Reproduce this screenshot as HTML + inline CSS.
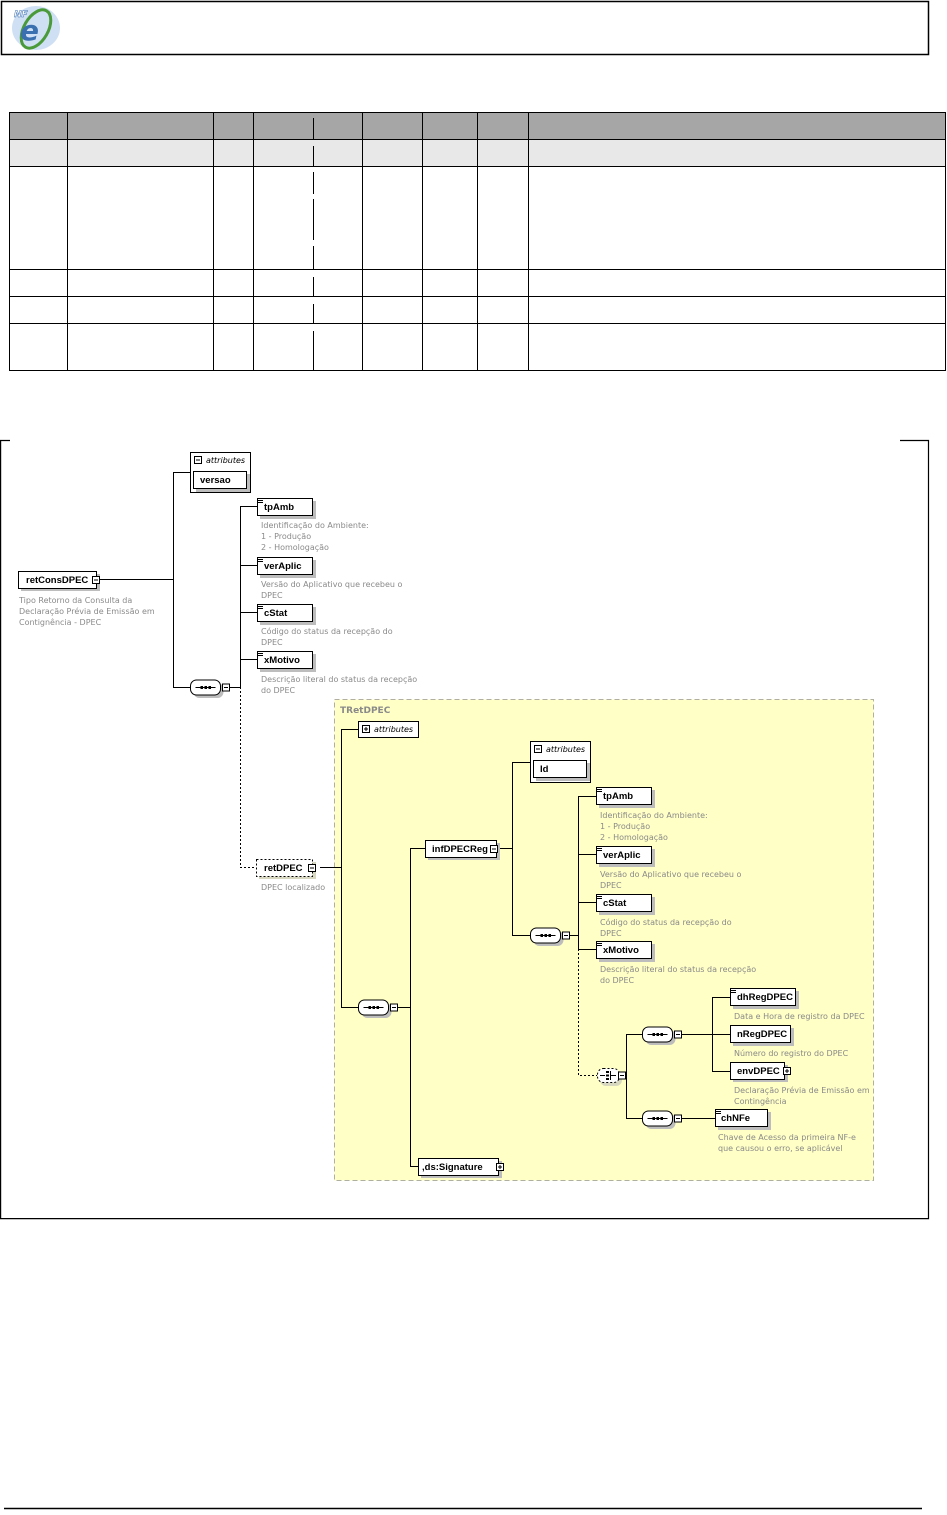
<!DOCTYPE html>
<html><head><meta charset="utf-8"><style>
html,body{margin:0;padding:0;background:#fff;}
body{width:947px;height:1510px;overflow:hidden;}
svg text{font-family:"DejaVu Sans","Liberation Sans",sans-serif;}
svg text.b{font-family:"Liberation Sans",sans-serif;font-size:9.5px;font-weight:bold;fill:#000;}
.d{font-size:8px;fill:#8a8a8a;}
.i{font-size:8px;font-style:italic;fill:#000;}
</style></head><body>
<svg width="947" height="1510" viewBox="0 0 947 1510" xmlns="http://www.w3.org/2000/svg">
<defs>
<path id="eq" d="M0,0.5H5M0,2.5H5" stroke="#000" stroke-width="1" fill="none"/>
<g id="seq"><rect x="3" y="3" width="30" height="15" rx="6" fill="#bdbdbd"/><rect x="0" y="0" width="30" height="15" rx="6" fill="#fff" stroke="#000"/><line x1="5" y1="7.5" x2="25" y2="7.5" stroke="#000"/><rect x="10" y="6" width="2.5" height="3" fill="#000"/><rect x="14" y="6" width="2.5" height="3" fill="#000"/><rect x="18" y="6" width="2.5" height="3" fill="#000"/><rect x="32" y="4" width="7" height="7" fill="#fff" stroke="#000"/><line x1="33.5" y1="7.5" x2="37.5" y2="7.5" stroke="#000"/></g>
<g id="minus"><rect x="0" y="0" width="7" height="7" fill="#fff" stroke="#000"/><line x1="1.5" y1="3.5" x2="5.5" y2="3.5" stroke="#000"/></g>
<g id="plus"><rect x="0" y="0" width="7" height="7" fill="#fff" stroke="#000"/><line x1="1.5" y1="3.5" x2="5.5" y2="3.5" stroke="#000"/><line x1="3.5" y1="1.5" x2="3.5" y2="5.5" stroke="#000"/></g>
</defs>

<rect x="1.5" y="1.5" width="927" height="53" fill="#fff" stroke="#000" stroke-width="1.5"/>
<ellipse cx="36" cy="28" rx="24" ry="22" fill="#cfe0f4"/>
<ellipse cx="36" cy="29" rx="12" ry="21" transform="rotate(30 36 29)" fill="none" stroke="#4a9a3a" stroke-width="3"/>
<text x="20" y="40" font-size="28" font-style="italic" font-weight="bold" fill="#3a6fb0" font-family="Liberation Sans">e</text>
<text x="14" y="17" font-size="9" font-style="italic" font-weight="bold" fill="#fff" stroke="#3a6fb0" stroke-width="0.5" font-family="Liberation Sans">NF</text>

<rect x="9" y="112" width="937" height="27" fill="#a6a6a6"/>
<rect x="9" y="139" width="937" height="27" fill="#e8e8e8"/>
<g stroke="#000" stroke-width="1">
<rect x="9.5" y="112.5" width="936" height="258" fill="none"/>
<line x1="9" y1="139.5" x2="946" y2="139.5"/>
<line x1="9" y1="166.5" x2="946" y2="166.5"/>
<line x1="9" y1="269.5" x2="946" y2="269.5"/>
<line x1="9" y1="296.5" x2="946" y2="296.5"/>
<line x1="9" y1="323.5" x2="946" y2="323.5"/>
<line x1="67.5" y1="112" x2="67.5" y2="371"/>
<line x1="213.5" y1="112" x2="213.5" y2="371"/>
<line x1="253.5" y1="112" x2="253.5" y2="371"/>
<line x1="362.5" y1="112" x2="362.5" y2="371"/>
<line x1="422.5" y1="112" x2="422.5" y2="371"/>
<line x1="477.5" y1="112" x2="477.5" y2="371"/>
<line x1="528.5" y1="112" x2="528.5" y2="371"/>
<line x1="313.5" y1="118" x2="313.5" y2="139"/><line x1="313.5" y1="146" x2="313.5" y2="166"/>
<line x1="313.5" y1="172" x2="313.5" y2="194"/><line x1="313.5" y1="199" x2="313.5" y2="240"/><line x1="313.5" y1="246" x2="313.5" y2="269"/>
<line x1="313.5" y1="277" x2="313.5" y2="296"/><line x1="313.5" y1="304" x2="313.5" y2="323"/><line x1="313.5" y1="331" x2="313.5" y2="371"/>
</g>

<g stroke="#000" stroke-width="1.2" fill="none">
<polyline points="10,440.5 0.6,440.5 0.6,1218.6 928.5,1218.6 928.5,440.5 900,440.5"/>
</g>
<line x1="4" y1="1508.5" x2="922" y2="1508.5" stroke="#000" stroke-width="1.5"/>

<rect x="334.5" y="699.5" width="539" height="481" fill="#ffffc6" stroke="#b0b0a0" stroke-dasharray="5,3"/>
<text x="340" y="713" font-size="9" font-weight="bold" fill="#8a8a8a">TRetDPEC</text>

<g stroke="#000" stroke-width="1" fill="none">
<line x1="100" y1="579.5" x2="173" y2="579.5"/>
<line x1="173.5" y1="472" x2="173.5" y2="687"/>
<line x1="173" y1="472.5" x2="193" y2="472.5"/>
<line x1="173" y1="687.5" x2="190" y2="687.5"/>
<line x1="227" y1="687.5" x2="240" y2="687.5"/>
<line x1="240.5" y1="506" x2="240.5" y2="687"/>
<line x1="240" y1="506.5" x2="257" y2="506.5"/>
<line x1="240" y1="565.5" x2="257" y2="565.5"/>
<line x1="240" y1="612.5" x2="257" y2="612.5"/>
<line x1="240" y1="659.5" x2="257" y2="659.5"/>
<polyline points="240.5,687 240.5,867.5 256,867.5" stroke-dasharray="2,2"/>
<line x1="320" y1="867.5" x2="341" y2="867.5"/>
<line x1="341.5" y1="729" x2="341.5" y2="1007"/>
<line x1="341" y1="729.5" x2="358" y2="729.5"/>
<line x1="341" y1="1007.5" x2="358" y2="1007.5"/>
<line x1="394" y1="1007.5" x2="410" y2="1007.5"/>
<line x1="410.5" y1="848" x2="410.5" y2="1166"/>
<line x1="410" y1="848.5" x2="425" y2="848.5"/>
<line x1="410" y1="1166.5" x2="418" y2="1166.5"/>
<line x1="500" y1="848.5" x2="512" y2="848.5"/>
<line x1="512.5" y1="762" x2="512.5" y2="935"/>
<line x1="512" y1="762.5" x2="533" y2="762.5"/>
<line x1="512" y1="935.5" x2="530" y2="935.5"/>
<line x1="566" y1="935.5" x2="578" y2="935.5"/>
<line x1="578.5" y1="796" x2="578.5" y2="949"/>
<line x1="578" y1="796.5" x2="596" y2="796.5"/>
<line x1="578" y1="854.5" x2="596" y2="854.5"/>
<line x1="578" y1="902.5" x2="596" y2="902.5"/>
<line x1="578" y1="949.5" x2="596" y2="949.5"/>
<polyline points="578.5,949 578.5,1075.5 597,1075.5" stroke-dasharray="2,2"/>
<line x1="618" y1="1075.5" x2="626" y2="1075.5"/>
<line x1="626.5" y1="1034" x2="626.5" y2="1118"/>
<line x1="626" y1="1034.5" x2="642" y2="1034.5"/>
<line x1="626" y1="1118.5" x2="642" y2="1118.5"/>
<line x1="678" y1="1034.5" x2="730" y2="1034.5"/>
<line x1="712.5" y1="997" x2="712.5" y2="1071"/>
<line x1="712" y1="997.5" x2="730" y2="997.5"/>
<line x1="712" y1="1071.5" x2="730" y2="1071.5"/>
<line x1="678" y1="1118.5" x2="715" y2="1118.5"/>
</g>

<rect x="190.5" y="452.5" width="60" height="40" fill="#fff" stroke="#000"/>
<use href="#minus" x="194.5" y="456.5"/>
<text x="206" y="463" class="i">attributes</text>
<rect x="196" y="474" width="54" height="18" fill="#bdbdbd"/>
<rect x="193.5" y="471.5" width="53" height="17" fill="#fff" stroke="#000"/>
<text x="200" y="483" class="b">versao</text>

<rect x="21" y="574" width="79" height="17" fill="#bdbdbd"/><rect x="18.5" y="571.5" width="78" height="17" fill="#fff" stroke="#000"/><text x="26" y="583" class="b">retConsDPEC</text><use href="#minus" x="92.5" y="576.5"/>
<text class="d"><tspan x="19" y="603">Tipo Retorno da Consulta da</tspan><tspan x="19" y="614">Declaração Prévia de Emissão em</tspan><tspan x="19" y="625">Contignência - DPEC</tspan></text>

<rect x="260" y="501" width="56" height="18" fill="#bdbdbd"/><rect x="257.5" y="498.5" width="55" height="17" fill="#fff" stroke="#000"/><use href="#eq" x="258" y="500"/><text x="264" y="510" class="b">tpAmb</text>
<rect x="260" y="560" width="56" height="18" fill="#bdbdbd"/><rect x="257.5" y="557.5" width="55" height="17" fill="#fff" stroke="#000"/><use href="#eq" x="258" y="559"/><text x="264" y="569" class="b">verAplic</text>
<rect x="260" y="607" width="56" height="18" fill="#bdbdbd"/><rect x="257.5" y="604.5" width="55" height="17" fill="#fff" stroke="#000"/><use href="#eq" x="258" y="606"/><text x="264" y="616" class="b">cStat</text>
<rect x="260" y="654" width="56" height="18" fill="#bdbdbd"/><rect x="257.5" y="651.5" width="55" height="17" fill="#fff" stroke="#000"/><use href="#eq" x="258" y="653"/><text x="264" y="663" class="b">xMotivo</text>
<text class="d"><tspan x="261" y="528">Identificação do Ambiente:</tspan><tspan x="261" y="539">1 - Produção</tspan><tspan x="261" y="550">2 - Homologação</tspan></text>
<text class="d"><tspan x="261" y="587">Versão do Aplicativo que recebeu o</tspan><tspan x="261" y="598">DPEC</tspan></text>
<text class="d"><tspan x="261" y="634">Código do status da recepção do</tspan><tspan x="261" y="645">DPEC</tspan></text>
<text class="d"><tspan x="261" y="682">Descrição literal do status da recepção</tspan><tspan x="261" y="693">do DPEC</tspan></text>

<use href="#seq" x="190.5" y="680"/>

<rect x="259" y="862" width="57" height="17" fill="#d8d8c0"/>
<rect x="256.5" y="859.5" width="56" height="17" fill="#fff" stroke="#000" stroke-dasharray="2,2"/>
<text x="264" y="871" class="b">retDPEC</text><use href="#minus" x="308.5" y="864.5"/>
<text x="261" y="890" class="d">DPEC localizado</text>

<rect x="358.5" y="721.5" width="60" height="16" fill="#fff" stroke="#000"/>
<use href="#plus" x="362.5" y="725.5"/>
<text x="374" y="732" class="i">attributes</text>

<use href="#seq" x="358.5" y="1000"/>

<rect x="428" y="843" width="72" height="17" fill="#bdbdbd"/><rect x="425.5" y="840.5" width="71" height="17" fill="#fff" stroke="#000"/><text x="432" y="852" class="b">infDPECReg</text><use href="#minus" x="490.5" y="845.5"/>

<rect x="421" y="1161" width="81" height="17" fill="#bdbdbd"/><rect x="418.5" y="1158.5" width="80" height="17" fill="#fff" stroke="#000"/><text x="422" y="1170" class="b">,ds:Signature</text><use href="#plus" x="496.5" y="1163.5"/>

<rect x="530.5" y="741.5" width="60" height="41" fill="#fff" stroke="#000"/>
<use href="#minus" x="534.5" y="745.5"/>
<text x="546" y="752" class="i">attributes</text>
<rect x="536" y="763" width="54" height="18" fill="#bdbdbd"/>
<rect x="533.5" y="760.5" width="53" height="17" fill="#fff" stroke="#000"/>
<text x="540" y="772" class="b">Id</text>

<rect x="599" y="790" width="56" height="18" fill="#bdbdbd"/><rect x="596.5" y="787.5" width="55" height="17" fill="#fff" stroke="#000"/><use href="#eq" x="597" y="789"/><text x="603" y="799" class="b">tpAmb</text>
<rect x="599" y="849" width="56" height="18" fill="#bdbdbd"/><rect x="596.5" y="846.5" width="55" height="17" fill="#fff" stroke="#000"/><use href="#eq" x="597" y="848"/><text x="603" y="858" class="b">verAplic</text>
<rect x="599" y="897" width="56" height="18" fill="#bdbdbd"/><rect x="596.5" y="894.5" width="55" height="17" fill="#fff" stroke="#000"/><use href="#eq" x="597" y="896"/><text x="603" y="906" class="b">cStat</text>
<rect x="599" y="944" width="56" height="18" fill="#bdbdbd"/><rect x="596.5" y="941.5" width="55" height="17" fill="#fff" stroke="#000"/><use href="#eq" x="597" y="943"/><text x="603" y="953" class="b">xMotivo</text>
<text class="d"><tspan x="600" y="818">Identificação do Ambiente:</tspan><tspan x="600" y="829">1 - Produção</tspan><tspan x="600" y="840">2 - Homologação</tspan></text>
<text class="d"><tspan x="600" y="877">Versão do Aplicativo que recebeu o</tspan><tspan x="600" y="888">DPEC</tspan></text>
<text class="d"><tspan x="600" y="925">Código do status da recepção do</tspan><tspan x="600" y="936">DPEC</tspan></text>
<text class="d"><tspan x="600" y="972">Descrição literal do status da recepção</tspan><tspan x="600" y="983">do DPEC</tspan></text>

<use href="#seq" x="530.5" y="928"/>

<!-- choice -->
<rect x="600" y="1071" width="22" height="15" rx="6" fill="#d8d8c0"/>
<rect x="597.5" y="1068.5" width="22" height="14" rx="6" fill="#fff" stroke="#000" stroke-dasharray="2,2"/>
<line x1="600" y1="1075.5" x2="605" y2="1075.5" stroke="#000"/>
<rect x="606" y="1071" width="3" height="2" fill="#000"/><rect x="606" y="1074.5" width="3" height="2" fill="#000"/><rect x="606" y="1078" width="3" height="2" fill="#000"/>
<line x1="610.5" y1="1071" x2="610.5" y2="1080" stroke="#000"/><line x1="610" y1="1075.5" x2="616" y2="1075.5" stroke="#000"/>
<use href="#minus" x="618.5" y="1072"/>

<use href="#seq" x="642.5" y="1027"/>
<use href="#seq" x="642.5" y="1111"/>

<rect x="733" y="991" width="66" height="18" fill="#bdbdbd"/><rect x="730.5" y="988.5" width="65" height="17" fill="#fff" stroke="#000"/><use href="#eq" x="731" y="990"/><text x="737" y="1000" class="b">dhRegDPEC</text>
<rect x="733" y="1028" width="61" height="18" fill="#bdbdbd"/><rect x="730.5" y="1025.5" width="60" height="17" fill="#fff" stroke="#000"/><text x="737" y="1037" class="b">nRegDPEC</text>
<rect x="733" y="1065" width="55" height="17" fill="#bdbdbd"/><rect x="730.5" y="1062.5" width="54" height="17" fill="#fff" stroke="#000"/><text x="737" y="1074" class="b">envDPEC</text><use href="#plus" x="783.5" y="1067.5"/>
<rect x="718" y="1112" width="53" height="18" fill="#bdbdbd"/><rect x="715.5" y="1109.5" width="52" height="17" fill="#fff" stroke="#000"/><use href="#eq" x="716" y="1111"/><text x="721" y="1121" class="b">chNFe</text>
<text class="d" x="734" y="1019">Data e Hora de registro da DPEC</text>
<text class="d" x="734" y="1056">Número do registro do DPEC</text>
<text class="d"><tspan x="734" y="1093">Declaração Prévia de Emissão em</tspan><tspan x="734" y="1104">Contingência</tspan></text>
<text class="d"><tspan x="718" y="1140">Chave de Acesso da primeira NF-e</tspan><tspan x="718" y="1151">que causou o erro, se aplicável</tspan></text>
</svg>
</body></html>
